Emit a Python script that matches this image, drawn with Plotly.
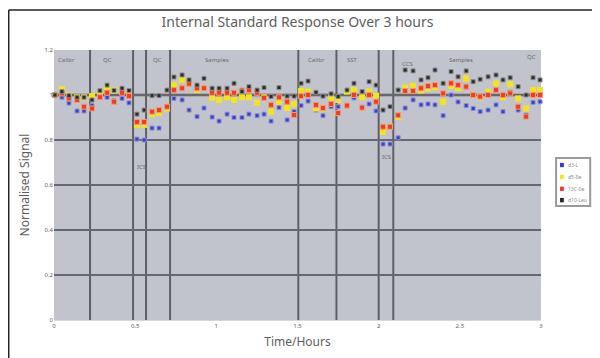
import plotly.graph_objects as go

# ---- data (time in hours, normalised signal) ----
time_h = [0.006, 0.049, 0.092, 0.142, 0.185, 0.234, 0.283, 0.327, 0.370, 0.419,
          0.462, 0.511, 0.555, 0.604, 0.647, 0.696, 0.739, 0.789, 0.832, 0.881,
          0.924, 0.974, 1.017, 1.066, 1.109, 1.158, 1.201, 1.251, 1.294, 1.337,
          1.386, 1.436, 1.479, 1.522, 1.565, 1.614, 1.657, 1.707, 1.750, 1.805,
          1.848, 1.898, 1.941, 1.984, 2.027, 2.070, 2.120, 2.163, 2.212, 2.261,
          2.304, 2.347, 2.397, 2.446, 2.489, 2.539, 2.582, 2.625, 2.674, 2.723,
          2.766, 2.810, 2.859, 2.908, 2.951, 2.994]

series_blue = [1.00, 0.99, 0.964, 0.929, 0.929, 0.953, 1.00, 0.99, 0.975, 0.985,
               0.965, 0.804, 0.800, 0.853, 0.853, 0.94, 0.985, 0.978, 0.933, 0.904,
               0.942, 0.902, 0.884, 0.915, 0.90, 0.90, 0.915, 0.908, 0.915, 0.884,
               0.944, 0.889, 0.926, 0.953, 0.973, 0.933, 0.908, 0.948, 0.948, 0.953,
               0.987, 0.99, 0.96, 0.929, 0.782, 0.782, 0.81, 0.942, 0.978, 0.956,
               0.96, 0.956, 0.908, 1.00, 0.969, 0.953, 0.94, 0.926, 0.933, 0.956,
               0.926, 1.012, 0.933, 0.911, 0.967, 0.97]

series_yellow = [1.00, 1.027, 0.997, 0.99, 0.99, 0.995, 1.01, 1.035, 1.02, 1.02,
                 1.00, 0.867, 0.867, 0.914, 0.92, 0.94, 1.044, 1.067, 1.05, 1.022,
                 1.03, 0.988, 0.978, 0.99, 0.978, 0.99, 0.99, 0.966, 0.99, 0.926,
                 0.97, 0.942, 0.96, 1.018, 1.015, 0.94, 0.94, 0.99, 0.978, 1.015,
                 1.022, 0.99, 1.015, 0.997, 0.837, 0.86, 0.902, 1.033, 1.04, 1.02,
                 1.03, 1.035, 0.97, 1.04, 1.03, 1.074, 1.00, 0.99, 1.015, 1.052,
                 0.99, 1.048, 0.985, 0.94, 1.022, 1.022]

series_orange = [1.00, 1.007, 0.985, 0.978, 0.948, 0.94, 0.99, 1.01, 0.97, 1.01,
                 0.995, 0.88, 0.88, 0.926, 0.933, 0.948, 1.022, 1.03, 1.05, 1.03,
                 1.03, 1.01, 1.01, 1.01, 1.01, 1.02, 1.022, 1.01, 0.987, 0.956,
                 0.99, 0.97, 0.911, 0.995, 1.00, 0.956, 0.942, 0.96, 0.92, 0.953,
                 1.00, 0.944, 1.00, 0.97, 0.859, 0.859, 0.91, 1.018, 1.018, 1.03,
                 1.04, 1.044, 1.007, 1.052, 1.044, 1.037, 1.00, 0.993, 1.00, 1.022,
                 1.00, 1.007, 0.948, 0.904, 1.00, 1.00]

series_black = [1.00, 1.015, 0.997, 0.99, 0.99, 0.978, 1.019, 1.044, 1.02, 1.03,
                1.02, 0.915, 0.933, 0.997, 0.997, 1.022, 1.08, 1.089, 1.067, 1.044,
                1.074, 1.03, 1.03, 1.03, 1.052, 1.015, 1.037, 1.022, 1.033, 0.993,
                1.033, 0.995, 0.995, 1.052, 1.062, 1.012, 0.995, 1.005, 0.993, 1.022,
                1.052, 1.015, 1.059, 1.044, 0.933, 0.948, 1.022, 1.111, 1.107, 1.067,
                1.077, 1.111, 1.052, 1.104, 1.081, 1.107, 1.059, 1.07, 1.081, 1.089,
                1.067, 1.077, 1.037, 1.00, 1.077, 1.067]

series_names = ["d3-L", "d5-Ile", "13C-Ile", "d10-Leu"]

dividers = [0.222, 0.487, 0.567, 0.715, 1.505, 1.74, 2.0, 2.09]

section_labels = ["Calibr", "QC", "QC", "Samples", "Calibr", "SST", "CCS", "Samples", "QC"]
section_x = [0.08, 0.327, 0.635, 1.004, 1.62, 1.836, 2.18, 2.51, 2.94]
section_y = [1.155, 1.155, 1.155, 1.155, 1.155, 1.155, 1.14, 1.155, 1.17]

ics_labels = ["ICS", "ICS"]
ics_x = [0.542, 2.05]
ics_y = [0.68, 0.724]

x_ticks = [0, 0.5, 1, 1.5, 2, 2.5, 3]
y_ticks = [0, 0.2, 0.4, 0.6, 0.8, 1.0, 1.2]

text_col = "#5e5e5e"
font_fam = "Noto Sans, Open Sans, sans-serif"

fig = go.Figure()

marker_colors = ["#3b3fbf", "#f4e41c", "#ef3b2a", "#2a2a2a"]
marker_edges = ["#8d90d8", "#f6ea6a", "#f59a6a", "#8a8a8a"]
marker_sizes = [4, 6, 5, 4]
all_series = [series_blue, series_yellow, series_orange, series_black]

for name, ys, c, e, s in zip(series_names, all_series, marker_colors, marker_edges, marker_sizes):
    fig.add_trace(go.Scatter(x=time_h, y=ys, mode="markers", name=name,
                             marker=dict(color=c, symbol="square", size=s,
                                         line=dict(color=e, width=1 if s < 6 else 0)),
                             cliponaxis=False, showlegend=False))

shapes = []
shapes.append(dict(type="line", xref="x", yref="y", x0=0, x1=3, y0=1.0, y1=1.0,
                   line=dict(color="#a6a8ae", width=4), layer="below"))
for d in dividers:
    shapes.append(dict(type="line", xref="x", yref="y", x0=d, x1=d, y0=0, y1=1.2,
                       line=dict(color="#5e6066", width=2), layer="below"))
# outer chart border (top and left edges)
shapes.append(dict(type="line", xref="paper", yref="paper", x0=-0.093, x1=1.2,
                   y0=1.148, y1=1.148, line=dict(color="#222", width=1.5)))
shapes.append(dict(type="line", xref="paper", yref="paper", x0=-0.093, x1=-0.093,
                   y0=1.148, y1=-0.2, line=dict(color="#222", width=1.5)))

annotations = []
for t, x, y in zip(section_labels, section_x, section_y):
    annotations.append(dict(x=x, y=y, xref="x", yref="y", text=t, showarrow=False,
                            font=dict(size=6, color="#6a6a6a", family=font_fam)))
for t, x, y in zip(ics_labels, ics_x, ics_y):
    annotations.append(dict(x=x, y=y, xref="x", yref="y", text=t, showarrow=False,
                            font=dict(size=6, color="#6a6a6a", family=font_fam)))

# compact legend box (Excel style) placed right of the plot
leg_x0, leg_x1 = 1.031, 1.101
leg_y0, leg_y1 = 0.422, 0.600
leg_rows = [0.574, 0.530, 0.486, 0.444]
shapes.append(dict(type="rect", xref="paper", yref="paper", x0=leg_x0, x1=leg_x1,
                   y0=leg_y0, y1=leg_y1, line=dict(color="#9a9a9a", width=2),
                   fillcolor="white"))
for name, c, ry in zip(series_names, marker_colors, leg_rows):
    shapes.append(dict(type="rect", xref="paper", yref="paper",
                       x0=1.039, x1=1.047, y0=ry - 0.008, y1=ry + 0.008,
                       line=dict(width=0), fillcolor=c))
    annotations.append(dict(x=1.052, y=ry, xref="paper", yref="paper", text=name,
                            showarrow=False, xanchor="left", yanchor="middle",
                            font=dict(size=5, color="#8a8a8a", family=font_fam)))

fig.update_layout(
    width=600, height=358,
    margin=dict(l=46, r=67, t=42, b=46, autoexpand=False),
    paper_bgcolor="white",
    plot_bgcolor="#c1c4cc",
    title=dict(text="Internal Standard Response Over 3 hours", x=0.5, xanchor="center",
               xref="paper",
               y=1 - 14 / 358, yanchor="middle",
               font=dict(size=14, color=text_col, family=font_fam)),
    xaxis=dict(range=[0, 3], tickvals=x_ticks, ticktext=[str(v) for v in x_ticks],
               showgrid=False, zeroline=False, showline=True, linecolor="#d8d8d8",
               tickfont=dict(size=6, color=text_col, family=font_fam),
               title=dict(text="Time/Hours", standoff=8,
                          font=dict(size=12, color=text_col, family=font_fam))),
    yaxis=dict(range=[0, 1.2], tickvals=y_ticks,
               ticktext=["0", "0.2", "0.4", "0.6", "0.8", "1", "1.2"],
               showgrid=True, gridcolor="#66686e", gridwidth=1.5, zeroline=False,
               showline=False,
               tickfont=dict(size=6, color=text_col, family=font_fam),
               title=dict(text="Normalised Signal", standoff=12,
                          font=dict(size=12, color=text_col, family=font_fam))),
    shapes=shapes,
    annotations=annotations,
    showlegend=False,
)

fig.write_html("out.html")
